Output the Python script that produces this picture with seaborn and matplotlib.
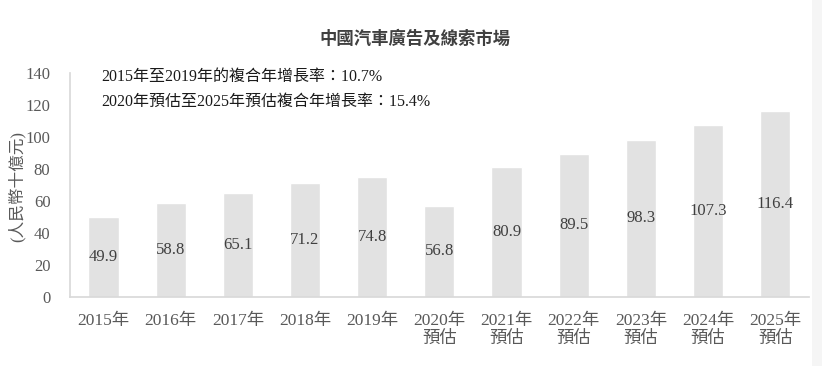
import matplotlib
matplotlib.use("Agg")
import matplotlib.pyplot as plt
from matplotlib.patches import Rectangle
import seaborn as sns
import pandas as pd

categories = ["2015年", "2016年", "2017年", "2018年", "2019年", "2020年\n預估",
              "2021年\n預估", "2022年\n預估", "2023年\n預估", "2024年\n預估", "2025年\n預估"]
values = [49.9, 58.8, 65.1, 71.2, 74.8, 56.8, 80.9, 89.5, 98.3, 107.3, 116.4]
value_labels = ["49.9", "58.8", "65.1", "71.2", "74.8", "56.8", "80.9", "89.5", "98.3", "107.3", "116.4"]
y_ticks = [0, 20, 40, 60, 80, 100, 120, 140]
title = "中國汽車廣告及線索市場"
y_label = "(人民幣十億元)"
notes = ["2015年至2019年的複合年增長率：10.7%", "2020年預估至2025年預估複合年增長率：15.4%"]

sns.set_theme(style="white")
fam = ["Liberation Serif", "Noto Sans CJK TC", "DejaVu Sans"]
plt.rcParams["font.family"] = fam

df = pd.DataFrame({"cat": categories, "val": values})

fig = plt.figure(figsize=(8.22, 3.66), dpi=100)
fig.patches.append(Rectangle((812 / 822, 0), 10 / 822, 1, transform=fig.transFigure,
                             facecolor="#f5f5f5", edgecolor="none", zorder=0))
ax = fig.add_axes([0.085, 0.189, 0.899, 0.612])
ax.patch.set_alpha(0)
sns.barplot(data=df, x="cat", y="val", color="#e2e2e2", saturation=1, width=0.45, ax=ax)
ax.set_xlim(-0.5, len(categories) - 0.5)
ax.set_ylim(0, 140)
ax.set_yticks(y_ticks)
ax.set_yticklabels([str(t) for t in y_ticks], fontsize=12, color="#595959")
ax.tick_params(axis="x", labelsize=12.5, labelcolor="#595959", length=0, pad=12)
ax.tick_params(axis="y", length=0, pad=14)
for lbl in ax.get_xticklabels():
    lbl.set_linespacing(1.15)
ax.set_xlabel("")
ax.set_ylabel("")
for s in ["top", "right"]:
    ax.spines[s].set_visible(False)
ax.spines["left"].set_color("#d9d9d9")
ax.spines["bottom"].set_color("#d9d9d9")

for i, (v, t) in enumerate(zip(values, value_labels)):
    ax.text(i, v / 2, t, ha="center", va="center", fontsize=12, color="#404040")

x0 = -0.5 + 31 / 67
ax.text(x0, 137.5, notes[0], fontsize=11.5, color="#1a1a1a", va="center", ha="left")
ax.text(x0, 122, notes[1], fontsize=11.5, color="#1a1a1a", va="center", ha="left")

fig.text(0.505, 0.893, title, ha="center", va="center", fontsize=12.5, fontweight="bold", color="#404040")
fig.text(0.02, 0.49, y_label, ha="center", va="center", rotation=90, fontsize=12, color="#595959")

fig.savefig("out.png", dpi=100)
